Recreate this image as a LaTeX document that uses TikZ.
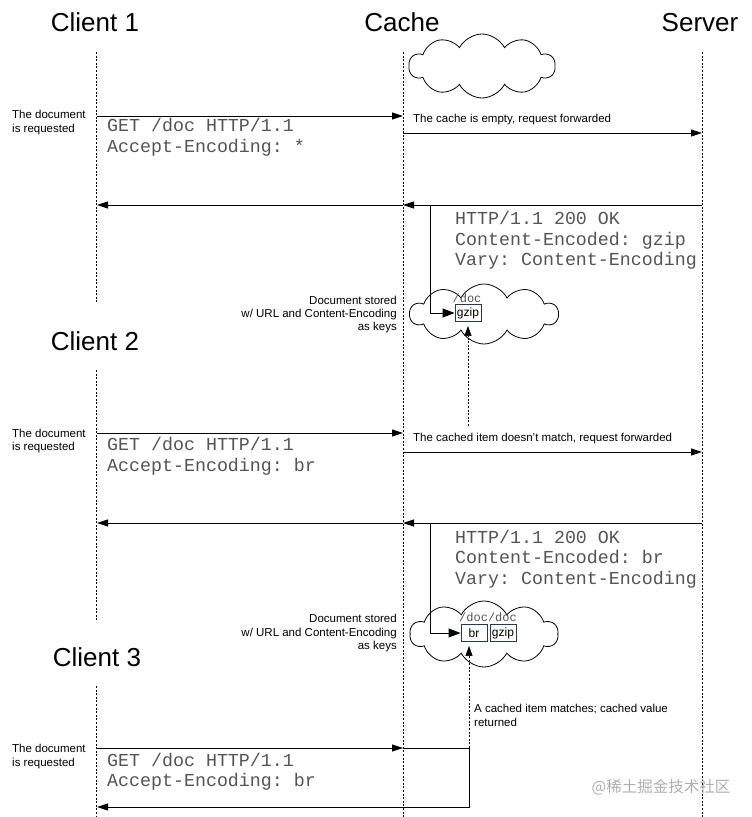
\documentclass[tikz,border=0pt]{standalone}
\usepackage{fontspec}
\setmainfont{Liberation Sans}
\setmonofont{Liberation Mono}
\newfontfamily\cjkfont{Noto Sans CJK SC}
\usetikzlibrary{shapes.symbols,arrows.meta}
\definecolor{codegray}{rgb}{0.33,0.33,0.33}
\definecolor{boxblue}{RGB}{35,55,95}
\definecolor{wmgray}{RGB}{175,175,175}
\begin{document}
\begin{tikzpicture}[x=1pt,y=-1pt,
  life/.style={draw=black, line width=0.7pt, dash pattern=on 2pt off 1.6pt},
  msg/.style={draw=black, line width=0.9pt, -{Triangle[length=11pt,width=7pt]}},
  link/.style={draw=black, line width=0.9pt},
  bracketarrow/.style={draw=black, line width=0.9pt, -{Triangle[length=12pt,width=9pt]}},
  dotarrow/.style={draw=black, line width=0.7pt, dash pattern=on 2pt off 1.6pt, -{Triangle[length=10pt,width=7pt]}, shorten >=4pt},
  title/.style={font=\fontsize{26}{30}\selectfont, inner sep=0, anchor=base},
  note/.style={font=\fontsize{11.5}{13.5}\selectfont, inner sep=0, anchor=base west},
  noteR/.style={font=\fontsize{11.5}{13.5}\selectfont, inner sep=0, anchor=base east},
  code/.style={font=\ttfamily\fontsize{18.3}{21}\selectfont, text=codegray, inner sep=0, anchor=base west},
  keyname/.style={font=\ttfamily\fontsize{12}{14}\selectfont, text=codegray, inner sep=0, anchor=base},
  keybox/.style={draw=boxblue, line width=0.9pt, font=\fontsize{12}{14}\selectfont, minimum width=26pt, minimum height=17pt, inner sep=0},
  store/.style={cloud, cloud puffs=10, cloud puff arc=125, aspect=2.3, draw=black, line width=0.8pt, inner sep=0}
]
\useasboundingbox (0,0) rectangle (752,817);

% titles
\node[title] (client1) at (95,31) {Client 1};
\node[title] (cachet) at (402,31) {Cache};
\node[title] (server) at (700,31) {Server};
\node[title] (client2) at (95,350) {Client 2};
\node[title] (client3) at (97,666) {Client 3};

% lifelines
\coordinate (c1top) at (96,52); \coordinate (c1bot) at (96,303);
\coordinate (c2top) at (96,370); \coordinate (c2bot) at (96,622);
\coordinate (c3top) at (96,686); \coordinate (c3bot) at (96,817);
\coordinate (catop) at (403,52); \coordinate (cabot) at (403,817);
\coordinate (svtop) at (702,52); \coordinate (svbot) at (702,817);
\draw[life] (c1top) -- (c1bot);
\draw[life] (c2top) -- (c2bot);
\draw[life] (c3top) -- (c3bot);
\draw[life] (catop) -- (cabot);
\draw[life] (svtop) -- (svbot);

% clouds
\node[store, minimum width=146pt, minimum height=64pt] (cloud1) at (482,66) {};
\node[store, minimum width=148pt, minimum height=60pt] (cloud2) at (484,314) {};
\node[store, minimum width=148pt, minimum height=66pt] (cloud3) at (484,634) {};

% ---------- scenario 1 ----------
\coordinate (a1c) at (97,116); \coordinate (a1k) at (403,116);
\draw[msg] (a1c) -- (a1k);
\node[note] (l1a) at (12,118) {The document};
\node[note] (l1b) at (12,132) {is requested};
\node[code] (g1a) at (107,131) {GET /doc HTTP/1.1};
\node[code] (g1b) at (107,152) {Accept-Encoding: *};

\coordinate (a2k) at (403,133); \coordinate (a2s) at (702,133);
\draw[msg] (a2k) -- (a2s);
\node[note] (f1) at (413,122) {The cache is empty, request forwarded};

\coordinate (a3s) at (702,205); \coordinate (a3k) at (403,205); \coordinate (a3c) at (97,205);
\draw[msg] (a3s) -- (a3k);
\draw[msg] (a3k) -- (a3c);
\node[code] (h1a) at (455,224) {HTTP/1.1 200 OK};
\node[code] (h1b) at (455,245) {Content-Encoded: gzip};
\node[code] (h1c) at (455,265) {Vary: Content-Encoding};

\node[keyname] (doc1) at (467,302) {/doc};
\node[keybox] (gz1) at (468,313) {gzip};
\coordinate (b1top) at (430,205); \coordinate (b1bot) at (430,313);
\draw[bracketarrow] (b1top) -- (b1bot) -- (gz1.west);
\node[noteR] (s1a) at (397,304) {Document stored};
\node[noteR] (s1b) at (397,317) {w/ URL and Content-Encoding};
\node[noteR] (s1c) at (397,330) {as keys};

\coordinate (d1) at (468,426);
\draw[dotarrow] (d1) -- (gz1.south -| d1);

% ---------- scenario 2 ----------
\coordinate (b2c) at (97,433); \coordinate (b2k) at (403,433);
\draw[msg] (b2c) -- (b2k);
\node[note] (l2a) at (12,437) {The document};
\node[note] (l2b) at (12,450) {is requested};
\node[code] (g2a) at (107,450) {GET /doc HTTP/1.1};
\node[code] (g2b) at (107,471) {Accept-Encoding: br};

\coordinate (b3k) at (403,452); \coordinate (b3s) at (702,452);
\draw[msg] (b3k) -- (b3s);
\node[note] (f2) at (413,441) {The cached item doesn't match, request forwarded};

\coordinate (b4s) at (702,523); \coordinate (b4k) at (403,523); \coordinate (b4c) at (97,523);
\draw[msg] (b4s) -- (b4k);
\draw[msg] (b4k) -- (b4c);
\node[code] (h2a) at (455,543) {HTTP/1.1 200 OK};
\node[code] (h2b) at (455,563) {Content-Encoded: br};
\node[code] (h2c) at (455,584) {Vary: Content-Encoding};

\node[keyname] (doc2) at (488,621) {/doc/doc};
\node[keybox] (br2) at (474,633) {br};
\node[keybox] (gz2) at (503,633) {gzip};
\coordinate (b5top) at (430,523); \coordinate (b5bot) at (430,633);
\draw[bracketarrow] (b5top) -- (b5bot) -- (br2.west);
\node[noteR] (s2a) at (397,622) {Document stored};
\node[noteR] (s2b) at (397,636) {w/ URL and Content-Encoding};
\node[noteR] (s2c) at (397,649) {as keys};

\node[note] (m1) at (474,712) {A cached item matches; cached value};
\node[note] (m2) at (474,726) {returned};

% ---------- scenario 3 ----------
\coordinate (e1c) at (97,748); \coordinate (e1k) at (403,748);
\coordinate (e1r) at (469,748); \coordinate (e1b) at (469,807); \coordinate (e1e) at (97,807);
\draw[msg] (e1c) -- (e1k);
\draw[link] (e1k) -- (e1r);
\draw[msg] (e1r) -- (e1b) -- (e1e);
\draw[dotarrow] (e1r) -- (br2.south -| e1r);
\node[note] (l3a) at (12,752) {The document};
\node[note] (l3b) at (12,766) {is requested};
\node[code] (g3a) at (107,766) {GET /doc HTTP/1.1};
\node[code] (g3b) at (107,786) {Accept-Encoding: br};

% watermark
\node[font=\cjkfont\fontsize{15.5}{18}\selectfont, text=wmgray, inner sep=0] (wm) at (661,787) {@稀土掘金技术社区};
\end{tikzpicture}
\end{document}
